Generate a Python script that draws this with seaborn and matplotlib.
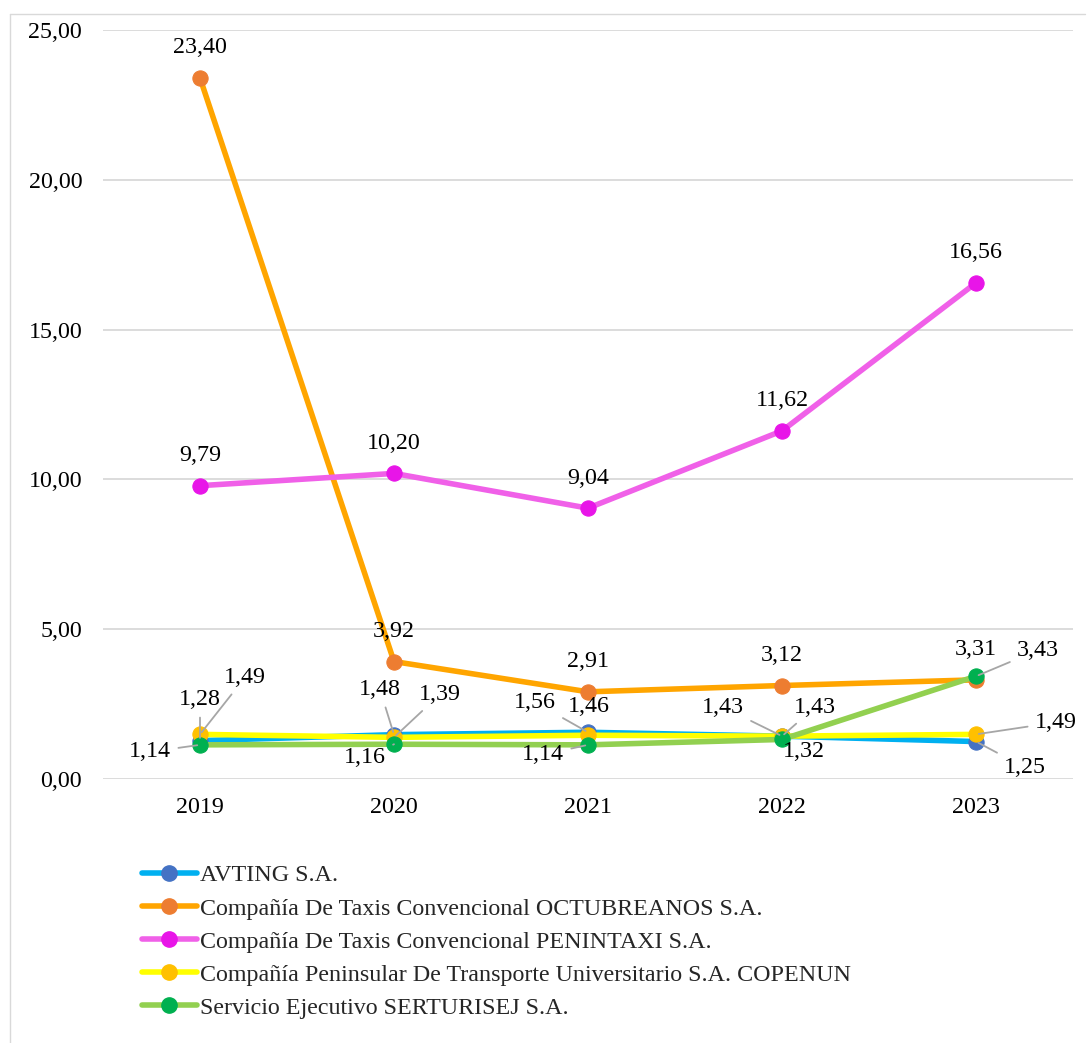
import matplotlib
matplotlib.use("Agg")
import matplotlib.pyplot as plt
import seaborn as sns
import pandas as pd
from matplotlib.lines import Line2D

years = ["2019", "2020", "2021", "2022", "2023"]
series_names = [
    "AVTING S.A.",
    "Compañía De Taxis Convencional OCTUBREANOS S.A.",
    "Compañía De Taxis Convencional PENINTAXI S.A.",
    "Compañía Peninsular De Transporte Universitario S.A. COPENUN",
    "Servicio Ejecutivo SERTURISEJ S.A.",
]
avting = [1.28, 1.48, 1.56, 1.43, 1.25]
octubreanos = [23.40, 3.92, 2.91, 3.12, 3.31]
penintaxi = [9.79, 10.20, 9.04, 11.62, 16.56]
copenun = [1.49, 1.39, 1.46, 1.43, 1.49]
serturisej = [1.14, 1.16, 1.14, 1.32, 3.43]
values = [avting, octubreanos, penintaxi, copenun, serturisej]

line_colors = ["#00B0F0", "#FFA500", "#F060E8", "#FFFF00", "#92D050"]
marker_colors = ["#4472C4", "#ED7D31", "#E815E8", "#FFC000", "#00B050"]

# label offsets in pixels (dx, dy) and whether a leader line is drawn
label_offsets = {
    0: [(0, 41, True), (-14, 45, True), (-53, 30, True), (-59, 29, True), (49, -26, True)],
    1: [(0, 30, False)] * 5,
    2: [(0, 30, False)] * 5,
    3: [(45, 57, True), (46, 43, True), (1, 29, False), (33, 29, True), (80, 12, True)],
    4: [(-50, -7, True), (-29, -13, True), (-45, -10, True), (22, -12, False), (62, 26, True)],
}

FS = 17.3

sns.set_theme(style="white")
plt.rcParams["font.family"] = ["Liberation Serif", "DejaVu Serif"]

fig = plt.figure(figsize=(10.91, 10.43), dpi=100)
ax = fig.add_axes([103 / 1091, 1 - 779 / 1043, (1073 - 103) / 1091, (779 - 30) / 1043])

x_pos = list(range(len(years)))
for i, (name, vals) in enumerate(zip(series_names, values)):
    df = pd.DataFrame({"x": x_pos, "y": vals})
    sns.lineplot(data=df, x="x", y="y", ax=ax, color=line_colors[i], linewidth=4.0,
                 marker="o", markersize=11, markerfacecolor=marker_colors[i],
                 markeredgecolor=marker_colors[i], legend=False, zorder=3 + i)

for i, vals in enumerate(values):
    for j, v in enumerate(vals):
        dx, dy, leader = label_offsets[i][j]
        txt = f"{v:.2f}".replace(".", ",")
        kw = {}
        if leader:
            kw["arrowprops"] = dict(arrowstyle="-", color="#A6A6A6", lw=1.3,
                                    shrinkA=3, shrinkB=2)
        ax.annotate(txt, xy=(j, v), xytext=(dx, dy), textcoords="offset pixels",
                    ha="center", va="center", fontsize=FS, color="#000000",
                    zorder=20, **kw)

ax.set_xlim(-0.5, 4.5)
ax.set_ylim(0, 25)
ax.set_yticks([0, 5, 10, 15, 20, 25])
ax.set_yticklabels([f"{t:.2f}".replace(".", ",") for t in [0, 5, 10, 15, 20, 25]])
ax.set_xticks(x_pos)
ax.set_xticklabels(years)
ax.set_xlabel("")
ax.set_ylabel("")
ax.tick_params(axis="y", labelsize=FS, colors="#000000", length=0, pad=15)
ax.tick_params(axis="x", labelsize=FS, colors="#000000", length=0, pad=13)
ax.yaxis.grid(True, color="#D9D9D9", linewidth=1.3)
ax.xaxis.grid(False)
for s in ax.spines.values():
    s.set_visible(False)

handles = [Line2D([0], [0], color=line_colors[i], lw=4.0, marker="o", markersize=11,
                  markerfacecolor=marker_colors[i], markeredgecolor=marker_colors[i])
           for i in range(len(series_names))]
fig.legend(handles, series_names, loc="upper left", bbox_to_anchor=(132 / 1091, 1 - 855 / 1043),
           frameon=False, fontsize=FS, handlelength=2.3, handletextpad=0.15,
           labelspacing=0.47, borderaxespad=0)

# chart border (left and top)
fig.add_artist(Line2D([10 / 1091, 10 / 1091], [0, 1 - 14 / 1043], transform=fig.transFigure,
                      color="#D9D9D9", lw=1))
fig.add_artist(Line2D([10 / 1091, 1085 / 1091], [1 - 14 / 1043, 1 - 14 / 1043],
                      transform=fig.transFigure, color="#D9D9D9", lw=1))

fig.savefig("out.png", dpi=100)
